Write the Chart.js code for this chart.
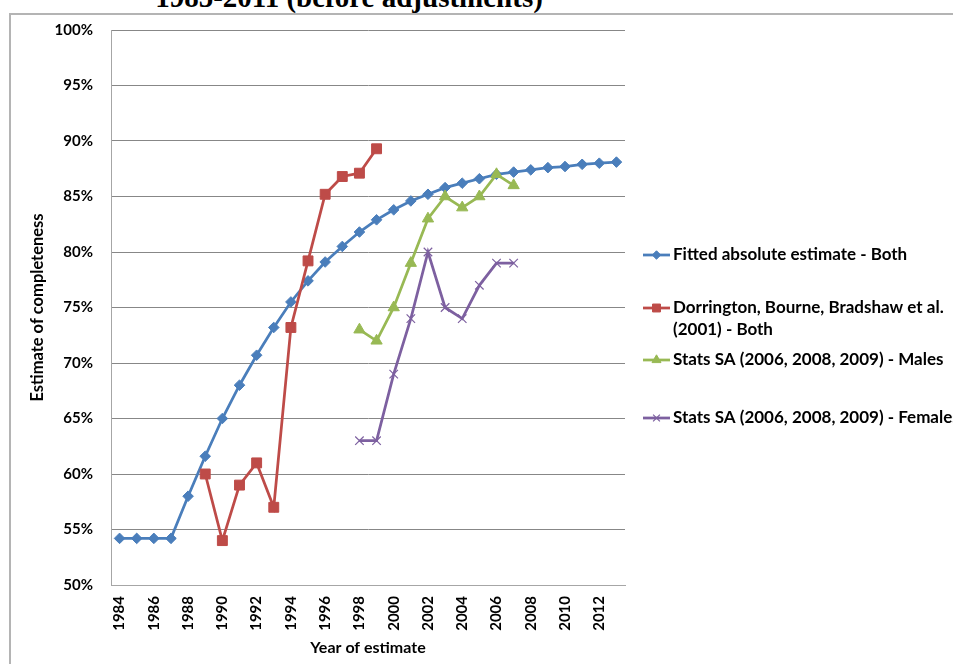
<!DOCTYPE html>
<html>
<head>
<meta charset="utf-8">
<title>Completeness estimates</title>
<script src="https://cdn.jsdelivr.net/npm/chart.js@4/dist/chart.umd.min.js"></script>
<style>
  html, body { margin: 0; padding: 0; background: #fff; overflow: hidden; }
  #wrap { position: relative; width: 953px; height: 664px; overflow: hidden; }
  #doc-title {
    position: absolute; left: 0; width: 698px; top: -17px;
    text-align: center; white-space: nowrap; color: #000;
    font: bold 29px/29px "Liberation Serif", "Times New Roman", serif;
  }
  #frame {
    position: absolute; left: 9px; top: 13px; right: -10px; bottom: -10px;
    border-left: 2px solid #b4b4b4; border-top: 2px solid #b4b4b4;
    pointer-events: none;
  }
  #chart { position: absolute; left: 0; top: 0; }
</style>
</head>
<body>
<div id="wrap">
  <div id="doc-title">1985-2011 (before adjustments)</div>
  <canvas id="chart" width="953" height="664"></canvas>
  <div id="frame"></div>
</div>
<script>
// Year categories on the x axis
const years = ['1984','1985','1986','1987','1988','1989','1990','1991','1992','1993',
               '1994','1995','1996','1997','1998','1999','2000','2001','2002','2003',
               '2004','2005','2006','2007','2008','2009','2010','2011','2012','2013'];

// Completeness estimates, percent
const fittedBoth = [54.2, 54.2, 54.2, 54.2, 58.0, 61.6, 65.0, 68.0, 70.7, 73.2,
                    75.5, 77.4, 79.1, 80.5, 81.8, 82.9, 83.8, 84.6, 85.2, 85.8,
                    86.2, 86.6, 87.0, 87.2, 87.4, 87.6, 87.7, 87.9, 88.0, 88.1];

const dorringtonBoth = [null, null, null, null, null, 60, 54, 59, 61, 57,
                        73.2, 79.2, 85.2, 86.8, 87.1, 89.3, null, null, null, null,
                        null, null, null, null, null, null, null, null, null, null];

const statsSAMales = [null, null, null, null, null, null, null, null, null, null,
                      null, null, null, null, 73, 72, 75, 79, 83, 85,
                      84, 85, 87, 86, null, null, null, null, null, null];

const statsSAFemales = [null, null, null, null, null, null, null, null, null, null,
                        null, null, null, null, 63, 63, 69, 74, 80, 75,
                        74, 77, 79, 79, null, null, null, null, null, null];

// Y axis range and tick step (percent)
const yMin = 50, yMax = 100, yStep = 5;

// Series names, with the line breaks used in the legend
const seriesNames = [
  ['Fitted absolute estimate - Both'],
  ['Dorrington, Bourne, Bradshaw et al.', '(2001) - Both'],
  ['Stats SA (2006, 2008, 2009) - Males'],
  ['Stats SA (2006, 2008, 2009) - Females']
];

const FONT = 'Lato, "Liberation Sans", sans-serif';
Chart.defaults.font.family = FONT;
Chart.defaults.color = '#000';

// Legend to the right of the plot, drawn on the canvas
const sideLegend = {
  id: 'sideLegend',
  afterDraw(chart, args, opts) {
    const ctx = chart.ctx;
    ctx.save();
    ctx.font = 'bold ' + opts.fontSize + 'px ' + FONT;
    ctx.textBaseline = 'middle';
    ctx.textAlign = 'left';
    chart.data.datasets.forEach((ds, i) => {
      const y = opts.rows[i];
      const x0 = opts.x, x1 = opts.x + opts.lineLen;
      ctx.strokeStyle = ds.borderColor;
      ctx.lineWidth = ds.borderWidth;
      ctx.beginPath();
      ctx.moveTo(x0, y);
      ctx.lineTo(x1, y);
      ctx.stroke();
      ctx.fillStyle = ds.backgroundColor;
      ctx.strokeStyle = ds.borderColor;
      ctx.lineWidth = ds.pointBorderWidth;
      Chart.helpers.drawPoint(ctx, {
        pointStyle: ds.pointStyle,
        radius: ds.pointRadius * 0.8,
        rotation: 0,
        borderWidth: ds.pointBorderWidth
      }, (x0 + x1) / 2, y);
      ctx.fillStyle = '#000';
      seriesNames[i].forEach((line, k) => {
        ctx.fillText(line, x1 + opts.gap, y + k * opts.lineHeight);
      });
    });
    ctx.restore();
  }
};

const lineSeries = (label, data, color, style, radius, pbw, order) => ({
  label, data,
  borderColor: color,
  backgroundColor: color,
  borderWidth: 2.75,
  pointStyle: style,
  pointRadius: radius,
  pointHoverRadius: radius,
  pointBorderWidth: pbw,
  pointBackgroundColor: color,
  pointBorderColor: color,
  tension: 0,
  spanGaps: false,
  order
});

new Chart(document.getElementById('chart'), {
  type: 'line',
  data: {
    labels: years,
    datasets: [
      lineSeries(seriesNames[0].join(' '), fittedBoth, '#4A7EBB', 'rectRot', 5.3, 1, 4),
      lineSeries(seriesNames[1].join(' '), dorringtonBoth, '#BE4B48', 'rect', 7, 1, 3),
      lineSeries(seriesNames[2].join(' '), statsSAMales, '#98B954', 'triangle', 6.5, 1, 2),
      lineSeries(seriesNames[3].join(' '), statsSAFemales, '#7D60A0', 'crossRot', 6, 1.2, 1)
    ]
  },
  options: {
    responsive: false,
    animation: false,
    events: [],
    layout: { padding: { left: 0, top: 30, right: 328, bottom: 0 } },
    plugins: {
      legend: { display: false },
      tooltip: { enabled: false },
      sideLegend: { x: 643, lineLen: 27, gap: 3, lineHeight: 22, fontSize: 17, rows: [255, 308, 360, 418] }
    },
    scales: {
      x: {
        type: 'category',
        offset: true,
        grid: { display: false, drawTicks: false },
        border: { display: true, color: '#a6a6a6', width: 1 },
        ticks: {
          autoSkip: false,
          minRotation: 90,
          maxRotation: 90,
          padding: 11,
          font: { size: 15, weight: 'bold' },
          callback: (v, i) => (i % 2 === 0 ? years[i] : '')
        },
        title: {
          display: true,
          text: 'Year of estimate',
          font: { size: 16, weight: 'bold' },
          padding: { top: 0, bottom: 6.4 }
        },
        afterFit: s => { s.height = 79; }
      },
      y: {
        min: yMin,
        max: yMax,
        grid: { color: '#878787', lineWidth: 1, drawTicks: false },
        border: { display: true, color: '#a6a6a6', width: 1 },
        ticks: {
          stepSize: yStep,
          padding: 18,
          font: { size: 15, weight: 'bold' },
          callback: v => v + '%'
        },
        title: {
          display: true,
          text: 'Estimate of completeness',
          font: { size: 16.5, weight: 'bold' },
          padding: { top: 28, bottom: 0 }
        },
        afterFit: s => { s.width = 111; }
      }
    }
  },
  plugins: [sideLegend]
});
</script>
</body>
</html>
